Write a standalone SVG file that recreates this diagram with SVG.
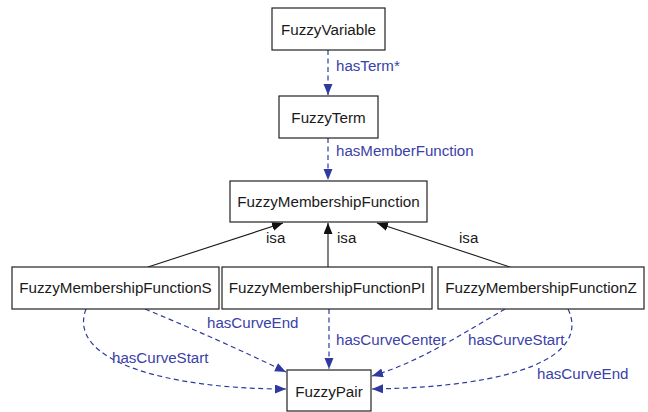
<svg xmlns="http://www.w3.org/2000/svg" width="648" height="412" viewBox="0 0 648 412">
  <style>
    .node rect { fill: #ffffff; stroke: #222222; stroke-width: 1.2; }
    .node text { font-family: "Liberation Sans", Arial, sans-serif; font-size: 15.2px; fill: #1a1a1a; text-anchor: middle; }
    .rel { fill: none; stroke: #2f3aa0; stroke-width: 1.2; stroke-dasharray: 5 3.5; marker-end: url(#blueHead); }
    .isa { fill: none; stroke: #1a1a1a; stroke-width: 1.1; marker-end: url(#blackHead); }
    .lbl { font-family: "Liberation Sans", Arial, sans-serif; font-size: 15.1px; fill: #3a41a8; }
    .isalbl { font-family: "Liberation Sans", Arial, sans-serif; font-size: 15.1px; fill: #1a1a1a; }
  </style>
  <defs>
    <marker id="blueHead" markerUnits="userSpaceOnUse" markerWidth="12" markerHeight="10" refX="11" refY="4.5" orient="auto">
      <path d="M0,0 L11,4.5 L0,9 Z" fill="#2f3aa0"/>
    </marker>
    <marker id="blackHead" markerUnits="userSpaceOnUse" markerWidth="12" markerHeight="10" refX="11" refY="4.5" orient="auto">
      <path d="M0,0 L11,4.5 L0,9 Z" fill="#111111"/>
    </marker>
  </defs>

  <rect width="648" height="412" fill="#ffffff"/>

  <g id="connectors">
    <path class="rel" d="M328,50 L328,95"/>
    <path class="rel" d="M328,138 L328,180"/>
    <path class="isa" d="M148,267 L283,223"/>
    <path class="isa" d="M328,267 L328,223"/>
    <path class="isa" d="M510,267 L377,223"/>
    <path class="rel" d="M145,309 Q220,340 286,372"/>
    <path class="rel" d="M86,309 C66,362 170,389 286,389"/>
    <path class="rel" d="M329,309 L329,369"/>
    <path class="rel" d="M505,309 C465,332 420,362 372,376"/>
    <path class="rel" d="M568,309 C590,355 520,387 372,389"/>

    <text class="lbl" x="336" y="71">hasTerm*</text>
    <text class="lbl" x="336" y="156">hasMemberFunction</text>
    <text class="isalbl" x="266" y="243">isa</text>
    <text class="isalbl" x="337" y="243">isa</text>
    <text class="isalbl" x="459" y="243">isa</text>
    <text class="lbl" x="207" y="328">hasCurveEnd</text>
    <text class="lbl" x="112" y="363">hasCurveStart</text>
    <text class="lbl" x="336" y="345">hasCurveCenter</text>
    <text class="lbl" x="468" y="345">hasCurveStart</text>
    <text class="lbl" x="537" y="379">hasCurveEnd</text>
  </g>

  <g id="FuzzyVariable" class="node">
    <rect x="272" y="8" width="113" height="42"/>
    <text x="328.5" y="35">FuzzyVariable</text>
  </g>
  <g id="FuzzyTerm" class="node">
    <rect x="279" y="96" width="99" height="42"/>
    <text x="328.5" y="123">FuzzyTerm</text>
  </g>
  <g id="FuzzyMembershipFunction" class="node">
    <rect x="230" y="181" width="197" height="41"/>
    <text x="328.5" y="207">FuzzyMembershipFunction</text>
  </g>
  <g id="FuzzyMembershipFunctionS" class="node">
    <rect x="12" y="267" width="207" height="42"/>
    <text x="115.5" y="293">FuzzyMembershipFunctionS</text>
  </g>
  <g id="FuzzyMembershipFunctionPI" class="node">
    <rect x="222" y="267" width="210" height="42"/>
    <text x="327" y="293">FuzzyMembershipFunctionPI</text>
  </g>
  <g id="FuzzyMembershipFunctionZ" class="node">
    <rect x="438" y="267" width="206" height="42"/>
    <text x="541" y="293">FuzzyMembershipFunctionZ</text>
  </g>
  <g id="FuzzyPair" class="node">
    <rect x="287" y="370" width="84" height="41"/>
    <text x="329" y="397">FuzzyPair</text>
  </g>
</svg>
